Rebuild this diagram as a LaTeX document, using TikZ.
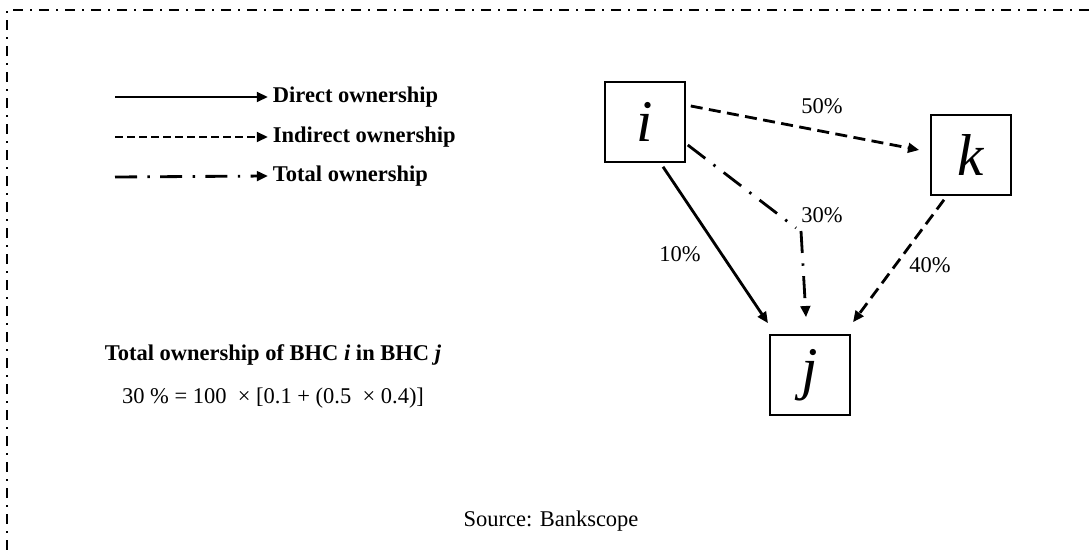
\documentclass[tikz,border=0pt]{standalone}
\usepackage{fontspec}
\setmainfont{Liberation Serif}
\usetikzlibrary{positioning, arrows.meta}

\begin{document}
\begin{tikzpicture}[x=0.025cm, y=-0.025cm,
        bhc/.style={draw, line width=1.1pt, minimum width=2cm, minimum height=2cm, inner sep=0pt, font=\fontsize{42}{50}\selectfont\itshape},
        own/.style={line width=2pt, -{Triangle[length=2.8mm, width=2.4mm]}},
        owndash/.style={own, dash pattern=on 3mm off 1.6mm},
        owntotal/.style={own, dash pattern=on 5.5mm off 2.6mm on 0.6mm off 2.6mm},
        pct/.style={font=\fontsize{16}{19}\selectfont},
        legend/.style={anchor=west, font=\fontsize{16}{19}\selectfont\bfseries}
    ]
      \useasboundingbox (0,0) rectangle (1090,550);
      % frame
      \draw[line width=1.7pt, dash pattern=on 2.5mm off 1.75mm on 0.5mm off 1.75mm] (7,550) -- (7,10) -- (1090,10);

      % legend
      \coordinate (la) at (115,97);
      \coordinate (lb) at (115,137);
      \coordinate (lc) at (115,177);
      \node[legend] (ta) at (268,97) {Direct ownership};
      \node[legend] (tb) at (268,137) {Indirect ownership};
      \node[legend] (tc) at (268,176) {Total ownership};
      \draw[own] (la) -- (ta.west);
      \draw[own, dash pattern=on 2mm off 1mm] (lb) -- (tb.west);
      \draw[owntotal] (lc) -- (tc.west);

      % banks
      \node[bhc] (i) at (645,122) {i};
      \node[bhc] (k) at (971,155) {k};
      \node[bhc] (j) at (810,375) {j};
      \coordinate (bend) at (796,228);

      \draw[owndash] ([shift={(5,-16)}]i.east) -- ([shift={(-11,-5)}]k.west);
      \draw[own] ([shift={(18,4)}]i.south) -- ([shift={(-42,-11)}]j.north);
      \draw[owntotal, -] ([shift={(2,23)}]i.east) -- (bend);
      \draw[owntotal] ([shift={(5,3)}]bend) -- ([shift={(-4,-17)}]j.north);
      \draw[owndash] ([shift={(-27,4)}]k.south) -- ([shift={(43,-12)}]j.north);

      \node[pct] (p50) at (822,106) {50\%};
      \node[pct] (p30) at (822,215) {30\%};
      \node[pct] (p10) at (680,254) {10\%};
      \node[pct] (p40) at (930,265) {40\%};

      % formula
      \node[font=\fontsize{16}{19}\selectfont\bfseries] (title) at (273,355)
           {Total ownership of BHC \textit{i} in BHC \textit{j}};
      \node[pct] (calc) at (273,398) {30 \% = 100 \ × [0.1 + (0.5 \ × 0.4)]};
      \node[pct] (src) at (551,521) {Source: Bankscope};
    \end{tikzpicture}
\end{document}
